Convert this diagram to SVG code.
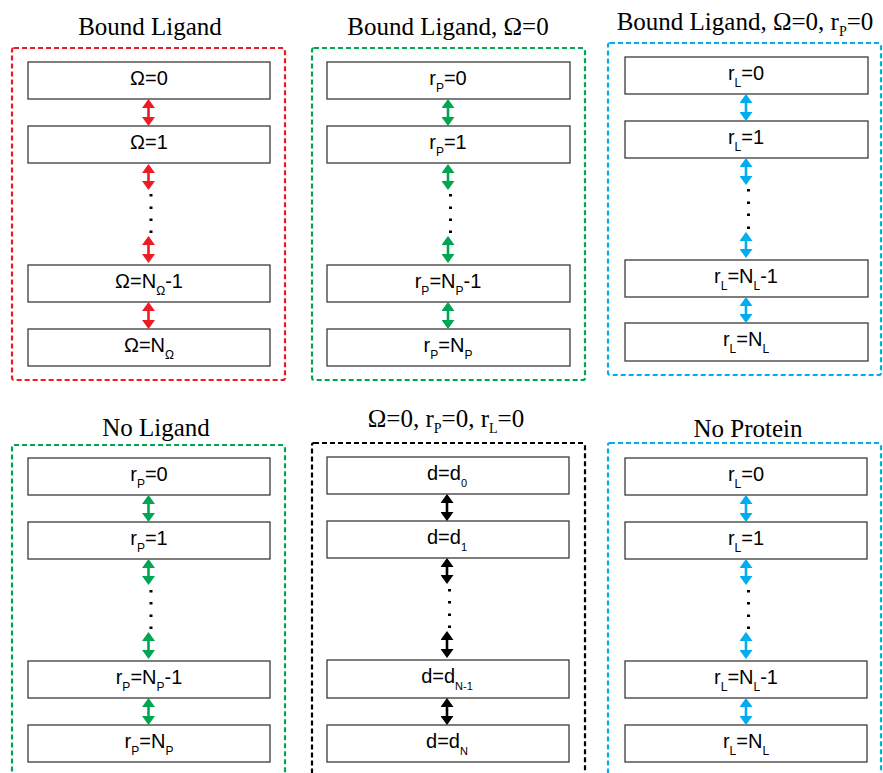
<svg xmlns="http://www.w3.org/2000/svg" width="883" height="773" viewBox="0 0 883 773">
<style>
.title{font-family:"Liberation Serif","Times New Roman",serif;font-size:25px;fill:#000;text-anchor:middle}
.lbl{font-family:"Liberation Sans",Arial,sans-serif;font-size:20px;fill:#000;text-anchor:middle}
.box{fill:#fff;stroke:#3a3a3a;stroke-width:1.3}
.frame{fill:none;stroke-width:2.2;stroke-dasharray:5 3}
.red{stroke:#ED1C24}.green{stroke:#00A651}.blue{stroke:#00AEEF}.black{stroke:#000}
.arr{stroke-width:2.6;fill:none}
.dot{fill:#000}
</style>
<defs>
<marker id="mr" viewBox="0 0 9 13" refX="7" refY="6.5" markerWidth="9" markerHeight="13" markerUnits="userSpaceOnUse" orient="auto-start-reverse"><path d="M0,0 L9,6.5 L0,13 Z" fill="#ED1C24"/></marker>
<marker id="mg" viewBox="0 0 9 13" refX="7" refY="6.5" markerWidth="9" markerHeight="13" markerUnits="userSpaceOnUse" orient="auto-start-reverse"><path d="M0,0 L9,6.5 L0,13 Z" fill="#00A651"/></marker>
<marker id="mb" viewBox="0 0 9 13" refX="7" refY="6.5" markerWidth="9" markerHeight="13" markerUnits="userSpaceOnUse" orient="auto-start-reverse"><path d="M0,0 L9,6.5 L0,13 Z" fill="#00AEEF"/></marker>
<marker id="mk" viewBox="0 0 9 13" refX="7" refY="6.5" markerWidth="9" markerHeight="13" markerUnits="userSpaceOnUse" orient="auto-start-reverse"><path d="M0,0 L9,6.5 L0,13 Z" fill="#000"/></marker>
</defs>
<rect width="883" height="773" fill="#fff"/>

<!-- Titles -->
<text class="title" x="150" y="35">Bound Ligand</text>
<text class="title" x="448" y="35">Bound Ligand, Ω=0</text>
<text class="title" x="745" y="30">Bound Ligand, Ω=0, r<tspan font-size="14" dy="6">P</tspan><tspan dy="-6">=0</tspan></text>
<text class="title" x="156" y="436">No Ligand</text>
<text class="title" x="446" y="427">Ω=0, r<tspan font-size="14" dy="6">P</tspan><tspan dy="-6">=0, r</tspan><tspan font-size="14" dy="6">L</tspan><tspan dy="-6">=0</tspan></text>
<text class="title" x="748" y="437">No Protein</text>

<!-- Frames -->
<g id="frames">
<rect class="frame red" x="12" y="48" width="273" height="332" rx="2"/>
<rect class="frame green" x="312" y="48" width="273" height="332" rx="2"/>
<rect class="frame blue" x="608" y="43" width="273" height="332" rx="2"/>
<rect class="frame green" x="12" y="445" width="273" height="345" rx="2"/>
<rect class="frame black" x="312" y="443" width="273" height="347" rx="2"/>
<rect class="frame blue" x="608" y="443" width="273" height="347" rx="2"/>
</g>

<!-- Panel 1 -->
<g id="p1-n0"><rect class="box" x="28" y="62" width="242" height="37"/><text class="lbl" x="149" y="85">Ω=0</text></g>
<g id="p1-n1"><rect class="box" x="28" y="126" width="242" height="37"/><text class="lbl" x="149" y="149">Ω=1</text></g>
<g id="p1-n2"><rect class="box" x="28" y="265" width="242" height="37"/><text class="lbl" x="149" y="288">Ω=N<tspan font-size="12" dy="7">Ω</tspan><tspan dy="-7">-1</tspan></text></g>
<g id="p1-n3"><rect class="box" x="28" y="329" width="242" height="37"/><text class="lbl" x="149" y="352">Ω=N<tspan font-size="12" dy="7">Ω</tspan></text></g>

<!-- Panel 2 -->
<g id="p2-n0"><rect class="box" x="327" y="62" width="243" height="37"/><text class="lbl" x="448" y="85">r<tspan font-size="12" dy="7">P</tspan><tspan dy="-7">=0</tspan></text></g>
<g id="p2-n1"><rect class="box" x="327" y="126" width="243" height="37"/><text class="lbl" x="448" y="149">r<tspan font-size="12" dy="7">P</tspan><tspan dy="-7">=1</tspan></text></g>
<g id="p2-n2"><rect class="box" x="327" y="265" width="243" height="37"/><text class="lbl" x="448" y="288">r<tspan font-size="12" dy="7">P</tspan><tspan dy="-7">=N</tspan><tspan font-size="12" dy="7">P</tspan><tspan dy="-7">-1</tspan></text></g>
<g id="p2-n3"><rect class="box" x="327" y="329" width="243" height="37"/><text class="lbl" x="448" y="352">r<tspan font-size="12" dy="7">P</tspan><tspan dy="-7">=N</tspan><tspan font-size="12" dy="7">P</tspan></text></g>

<!-- Panel 3 -->
<g id="p3-n0"><rect class="box" x="625" y="57" width="243" height="37"/><text class="lbl" x="746" y="80">r<tspan font-size="12" dy="7">L</tspan><tspan dy="-7">=0</tspan></text></g>
<g id="p3-n1"><rect class="box" x="625" y="121" width="243" height="37"/><text class="lbl" x="746" y="144">r<tspan font-size="12" dy="7">L</tspan><tspan dy="-7">=1</tspan></text></g>
<g id="p3-n2"><rect class="box" x="625" y="260" width="243" height="37"/><text class="lbl" x="746" y="283">r<tspan font-size="12" dy="7">L</tspan><tspan dy="-7">=N</tspan><tspan font-size="12" dy="7">L</tspan><tspan dy="-7">-1</tspan></text></g>
<g id="p3-n3"><rect class="box" x="625" y="323" width="243" height="38"/><text class="lbl" x="746" y="346">r<tspan font-size="12" dy="7">L</tspan><tspan dy="-7">=N</tspan><tspan font-size="12" dy="7">L</tspan></text></g>

<!-- Panel 4 -->
<g id="p4-n0"><rect class="box" x="28" y="458" width="242" height="37"/><text class="lbl" x="149" y="481">r<tspan font-size="12" dy="7">P</tspan><tspan dy="-7">=0</tspan></text></g>
<g id="p4-n1"><rect class="box" x="28" y="522" width="242" height="37"/><text class="lbl" x="149" y="545">r<tspan font-size="12" dy="7">P</tspan><tspan dy="-7">=1</tspan></text></g>
<g id="p4-n2"><rect class="box" x="28" y="661" width="242" height="37"/><text class="lbl" x="149" y="684">r<tspan font-size="12" dy="7">P</tspan><tspan dy="-7">=N</tspan><tspan font-size="12" dy="7">P</tspan><tspan dy="-7">-1</tspan></text></g>
<g id="p4-n3"><rect class="box" x="28" y="725" width="242" height="37"/><text class="lbl" x="149" y="748">r<tspan font-size="12" dy="7">P</tspan><tspan dy="-7">=N</tspan><tspan font-size="12" dy="7">P</tspan></text></g>

<!-- Panel 5 -->
<g id="p5-n0"><rect class="box" x="327" y="457" width="242" height="37"/><text class="lbl" x="447" y="480">d=d<tspan font-size="11" dy="7">0</tspan></text></g>
<g id="p5-n1"><rect class="box" x="327" y="521" width="242" height="37"/><text class="lbl" x="447" y="544">d=d<tspan font-size="11" dy="7">1</tspan></text></g>
<g id="p5-n2"><rect class="box" x="327" y="660" width="242" height="38"/><text class="lbl" x="447" y="683">d=d<tspan font-size="11" dy="7">N-1</tspan></text></g>
<g id="p5-n3"><rect class="box" x="327" y="725" width="242" height="37"/><text class="lbl" x="447" y="748">d=d<tspan font-size="11" dy="7">N</tspan></text></g>

<!-- Panel 6 -->
<g id="p6-n0"><rect class="box" x="625" y="458" width="242" height="37"/><text class="lbl" x="746" y="481">r<tspan font-size="12" dy="7">L</tspan><tspan dy="-7">=0</tspan></text></g>
<g id="p6-n1"><rect class="box" x="625" y="522" width="242" height="37"/><text class="lbl" x="746" y="545">r<tspan font-size="12" dy="7">L</tspan><tspan dy="-7">=1</tspan></text></g>
<g id="p6-n2"><rect class="box" x="625" y="661" width="242" height="37"/><text class="lbl" x="746" y="684">r<tspan font-size="12" dy="7">L</tspan><tspan dy="-7">=N</tspan><tspan font-size="12" dy="7">L</tspan><tspan dy="-7">-1</tspan></text></g>
<g id="p6-n3"><rect class="box" x="625" y="725" width="242" height="37"/><text class="lbl" x="746" y="748">r<tspan font-size="12" dy="7">L</tspan><tspan dy="-7">=N</tspan><tspan font-size="12" dy="7">L</tspan></text></g>

<!-- Connectors -->
<g id="connectors">
<g class="arr red" marker-start="url(#mr)" marker-end="url(#mr)">
<line x1="148.5" y1="101" x2="148.5" y2="124"/>
<line x1="148.5" y1="166" x2="148.5" y2="188"/>
<line x1="148.5" y1="238" x2="148.5" y2="261"/>
<line x1="148.5" y1="304" x2="148.5" y2="327"/>
</g>
<g class="arr green" marker-start="url(#mg)" marker-end="url(#mg)">
<line x1="448" y1="101" x2="448" y2="124"/>
<line x1="448" y1="166" x2="448" y2="188"/>
<line x1="448" y1="238" x2="448" y2="261"/>
<line x1="448" y1="304" x2="448" y2="327"/>
<line x1="148.5" y1="497" x2="148.5" y2="520"/>
<line x1="148.5" y1="561" x2="148.5" y2="583"/>
<line x1="148.5" y1="634" x2="148.5" y2="657"/>
<line x1="148.5" y1="700" x2="148.5" y2="723"/>
</g>
<g class="arr blue" marker-start="url(#mb)" marker-end="url(#mb)">
<line x1="746" y1="96" x2="746" y2="119"/>
<line x1="746" y1="160" x2="746" y2="183"/>
<line x1="746" y1="234" x2="746" y2="256"/>
<line x1="746" y1="299" x2="746" y2="321"/>
<line x1="746" y1="497" x2="746" y2="520"/>
<line x1="746" y1="561" x2="746" y2="583"/>
<line x1="746" y1="634" x2="746" y2="657"/>
<line x1="746" y1="700" x2="746" y2="723"/>
</g>
<g class="arr black" marker-start="url(#mk)" marker-end="url(#mk)">
<line x1="447" y1="496" x2="447" y2="519"/>
<line x1="447" y1="560" x2="447" y2="582"/>
<line x1="447" y1="633" x2="447" y2="656"/>
<line x1="447" y1="700" x2="447" y2="723"/>
</g>
<g class="dot">
<rect x="149.5" y="194" width="3" height="2.5"/><rect x="149.5" y="206.5" width="3" height="2.5"/><rect x="149.5" y="218.5" width="3" height="2.5"/><rect x="149.5" y="230.5" width="3" height="2.5"/>
<rect x="449" y="194" width="3" height="2.5"/><rect x="449" y="206.5" width="3" height="2.5"/><rect x="449" y="218.5" width="3" height="2.5"/><rect x="449" y="230.5" width="3" height="2.5"/>
<rect x="747" y="189" width="3" height="2.5"/><rect x="747" y="201.5" width="3" height="2.5"/><rect x="747" y="213.5" width="3" height="2.5"/><rect x="747" y="226.5" width="3" height="2.5"/>
<rect x="149.5" y="590" width="3" height="2.5"/><rect x="149.5" y="602" width="3" height="2.5"/><rect x="149.5" y="614.5" width="3" height="2.5"/><rect x="149.5" y="626.5" width="3" height="2.5"/>
<rect x="448" y="589" width="3" height="2.5"/><rect x="448" y="601" width="3" height="2.5"/><rect x="448" y="613.5" width="3" height="2.5"/><rect x="448" y="625.5" width="3" height="2.5"/>
<rect x="747" y="590" width="3" height="2.5"/><rect x="747" y="602" width="3" height="2.5"/><rect x="747" y="614.5" width="3" height="2.5"/><rect x="747" y="626.5" width="3" height="2.5"/>
</g>
</g>
</svg>
